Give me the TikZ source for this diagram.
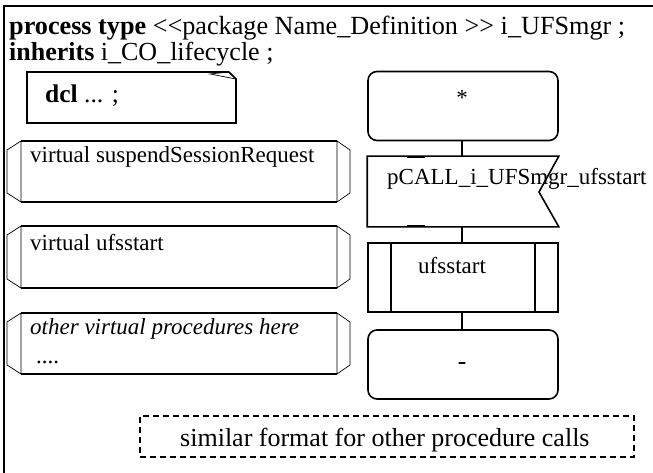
\documentclass[tikz,border=0pt]{standalone}
\usepackage{fontspec}
\setmainfont{Liberation Serif}
\begin{document}
\begin{tikzpicture}[x=1pt,y=-1pt,
  txt/.style={inner sep=0pt,anchor=base west,font=\fontsize{23}{26}\selectfont},
  bigtxt/.style={inner sep=0pt,anchor=base west,font=\fontsize{25.5}{29}\selectfont},
  thick line/.style={line width=1.6pt},
  thin line/.style={line width=0.7pt},
  flowbox/.style={minimum width=190pt,minimum height=69pt,inner sep=0pt,line width=1.6pt},
  conn/.style={line width=1.6pt}]
\useasboundingbox (0,0) rectangle (653,473);
% frame
\draw[line width=2.2pt] (653,6) -- (4,6) -- (4,473);
\node[bigtxt,font=\fontsize{26.2}{29}\selectfont] (l1) at (9,35) {\textbf{process type} <{}<package Name\_Definition >{}> i\_UFSmgr ;};
\node[bigtxt,font=\fontsize{26}{29}\selectfont] (l2) at (9,61) {\textbf{inherits} i\_CO\_lifecycle ;};
% dcl text symbol
\draw[thick line] (229,72) -- (27,72) -- (27,123) -- (236,123) -- (236,79) -- (229,72);
\draw[thin line] (210,74) -- (229,72) -- (236,79) -- cycle;
\node[bigtxt] (dcl) at (45,103) {\textbf{dcl} ... ;};
% virtual procedure boxes
\foreach \t/\b/\n in {141/202/v1,226/288/v2,313/374/v3}{
  \draw[thick line] (21,\t) -- (337,\t) (21,\b) -- (337,\b);
  \draw[thin line] (21,\t) -- (7,\t+9) -- (7,\b-9) -- (21,\b) -- cycle;
  \draw[thin line] (337,\t) -- (350,\t+9) -- (350,\b-9) -- (337,\b) -- cycle;
}
\node[txt] (v1t) at (30,163) {virtual suspendSessionRequest};
\node[txt] (v2t) at (30,250) {virtual ufsstart};
\node[txt] (v3t) at (30,334) {\itshape other virtual procedures here};
\node[txt] (v3d) at (36,363) {....};
% flow
\node[flowbox,draw,rounded corners=9pt] (start) at (463,106) {};
\node[txt,anchor=base] (startt) at (462,106) {*};
\node[flowbox] (inp) at (463,191.5) {};
\draw[thick line] (inp.north east) -- (inp.north west) -- (inp.south west) -- (inp.south east) -- (539,192) -- cycle;
\draw[line width=2.4pt] (407,157) -- (425,157) (407,226) -- (425,226);
\node[txt] (inpt) at (387,185) {pCALL\_i\_UFSmgr\_ufsstart};
\node[flowbox,draw] (proc) at (463,277.5) {};
\draw[thick line] (391,243) -- (391,312) (535,243) -- (535,312);
\node[txt] (proct) at (418,273) {ufsstart};
\node[flowbox,draw,rounded corners=9pt] (stop) at (463,364.5) {};
\node[bigtxt,anchor=base] (stopt) at (462,369) {-};
\draw[conn] (start.south -| 462,0) -- (inp.north -| 462,0);
\draw[conn] (inp.south -| 462,0) -- (proc.north -| 462,0);
\draw[conn] (proc.south -| 462,0) -- (stop.north -| 462,0);
% comment
\node[draw,dashed,line width=1.3pt,dash pattern=on 6pt off 4pt,minimum width=494pt,minimum height=41pt,inner sep=0pt] (cmt) at (387,436.5) {};
\node[bigtxt] (cmtt) at (180,446) {\fontsize{26}{29}\selectfont similar format for other procedure calls};
\end{tikzpicture}
\end{document}
